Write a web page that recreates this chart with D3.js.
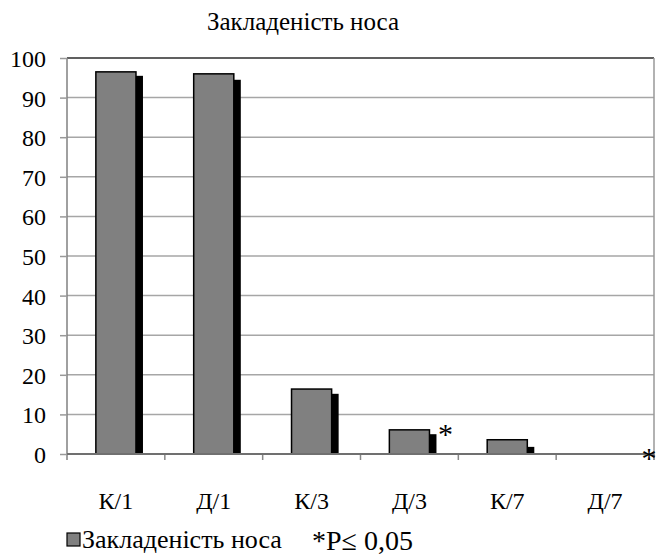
<!DOCTYPE html>
<html><head><meta charset="utf-8">
<script src="https://cdn.jsdelivr.net/npm/d3@7"></script>
<style>body{margin:0;background:#fff}svg{display:block}svg text{font-family:"Liberation Serif","Times New Roman",Tinos,"DejaVu Serif",serif !important;fill:#000}</style>
</head><body><svg id="c" width="661" height="558"></svg>
<script>
const categories = ["К/1","Д/1","К/3","Д/3","К/7","Д/7"];
const mainValues = [96.5, 96.0, 16.4, 6.1, 3.6, 0];
const shadowValues = [95.5, 94.5, 15.2, 5.0, 1.8, 0];
const yTicks = [0,10,20,30,40,50,60,70,80,90,100];
const starCategories = ["Д/3","Д/7"];
const starValues = [6.1, 0];
const titleText = "Закладеність носа";
const legendLabel = "Закладеність носа";
const noteText = "*P≤ 0,05";

const svg = d3.select("#c");
const L = 67, R = 654, T = 58, B = 454;
const x = d3.scaleBand().domain(categories).range([L, R]).padding(0);
const y = d3.scaleLinear().domain([0, 100]).range([B, T]);
const bw = x.bandwidth();
const barW = bw * 0.41;
const off = (bw - barW) / 2;

// gridlines
svg.append("g").selectAll("line").data(yTicks.filter(d => d > 0 && d < 100)).join("line")
  .attr("x1", L).attr("x2", R).attr("y1", d => y(d)).attr("y2", d => y(d))
  .attr("stroke", "#a6a6a6").attr("stroke-width", 1.5);
// top border
svg.append("line").attr("x1", L).attr("x2", R).attr("y1", y(100)).attr("y2", y(100))
  .attr("stroke", "#606060").attr("stroke-width", 2);
// right border
svg.append("line").attr("x1", R).attr("x2", R).attr("y1", y(100)).attr("y2", B + 6)
  .attr("stroke", "#999").attr("stroke-width", 1.5);

// y axis
const ya = svg.append("g").attr("transform", `translate(${L},0)`)
  .call(d3.axisLeft(y).tickValues(yTicks).tickSize(7).tickPadding(14));
ya.attr("font-family", null);
ya.select(".domain").attr("stroke", "#808080").attr("stroke-width", 1.5).attr("d", `M0,${y(100)}V${B + 6}`);
ya.selectAll(".tick line").attr("stroke", "#999").attr("stroke-width", 1.5);
ya.selectAll(".tick text").style("font-size", "24px").attr("dy", "0.35em");

// x axis
const xa = svg.append("g").attr("transform", `translate(0,${B})`)
  .call(d3.axisBottom(x).tickSize(0).tickPadding(0));
xa.attr("font-family", null);
xa.select(".domain").remove();
xa.selectAll(".tick text").style("font-size", "24px").attr("y", 55).attr("dy", 0);
svg.append("g").selectAll("line").data(categories.slice(1).concat(["end"])).join("line")
  .attr("x1", (d, i) => i < categories.length - 1 ? x(d) : R)
  .attr("x2", (d, i) => i < categories.length - 1 ? x(d) : R)
  .attr("y1", B).attr("y2", B + 6).attr("stroke", "#888").attr("stroke-width", 1.5);

// shadow bars
svg.append("g").selectAll("rect").data(categories).join("rect")
  .attr("x", d => x(d) + off + 7).attr("width", barW)
  .attr("y", (d, i) => y(shadowValues[i])).attr("height", (d, i) => B - y(shadowValues[i]))
  .attr("fill", "#000");
// main bars
svg.append("g").selectAll("rect").data(categories).join("rect")
  .filter((d, i) => mainValues[i] > 0)
  .attr("x", d => x(d) + off).attr("width", barW)
  .attr("y", d => y(mainValues[categories.indexOf(d)])).attr("height", d => B - y(mainValues[categories.indexOf(d)]))
  .attr("fill", "#808080").attr("stroke", "#000").attr("stroke-width", 1.5);

// x axis baseline
svg.append("line").attr("x1", L).attr("x2", R).attr("y1", B).attr("y2", B)
  .attr("stroke", "#707070").attr("stroke-width", 2);

// stars
svg.append("g").selectAll("text").data(starCategories).join("text")
  .attr("x", (d, i) => i === 0 ? x(d) + bw / 2 + 36 : x(d) + bw / 2 + 44)
  .attr("y", (d, i) => y(starValues[i]) + 14)
  .attr("text-anchor", "middle").style("font-size", "30px")
  .text("*");

// title
svg.append("text").attr("x", 303).attr("y", 30).attr("text-anchor", "middle")
  .style("font-size", "25px").text(titleText);

// legend
svg.append("rect").attr("x", 67).attr("y", 533).attr("width", 13).attr("height", 13)
  .attr("fill", "#808080").attr("stroke", "#000").attr("stroke-width", 1.2);
svg.append("text").attr("x", 82).attr("y", 548).style("font-size", "26px").text(legendLabel);
svg.append("text").attr("x", 312).attr("y", 550).style("font-size", "28px").text(noteText);
</script></body></html>
